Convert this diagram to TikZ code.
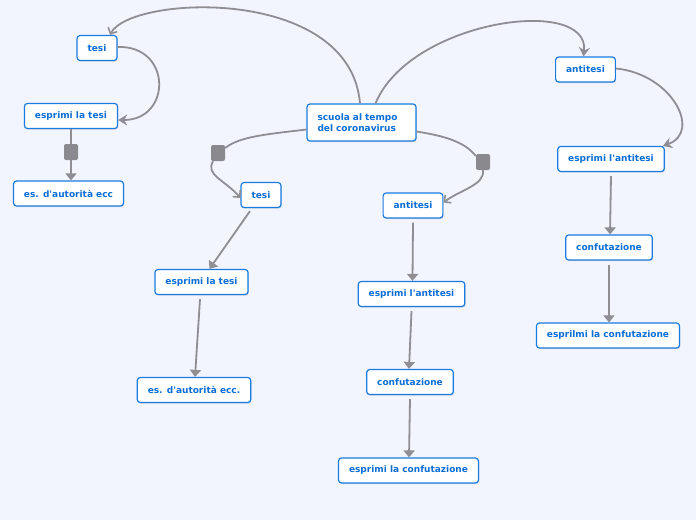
\documentclass[tikz,border=0pt]{standalone}
\usepackage{fontspec}
\setmainfont{DejaVu Sans}[Ligatures=TeXOff]
\usetikzlibrary{arrows.meta,shadows}
\definecolor{bg}{HTML}{F2F5FE}
\definecolor{bord}{HTML}{1A7BE0}
\definecolor{txt}{HTML}{0B6ED6}
\definecolor{edge}{HTML}{8E8E93}
\definecolor{sq}{HTML}{8A8A8E}
\tikzset{
  box/.style={draw=bord, line width=1.2pt, fill=white, rounded corners=3pt,
    text=txt, font=\fontsize{9}{11}\selectfont\bfseries, inner xsep=10.5pt, inner ysep=0pt,
    minimum height=25pt, drop shadow={shadow xshift=0.8pt, shadow yshift=-1.2pt, opacity=0.25}},
  knob/.style={fill=sq, rounded corners=2pt, minimum width=14pt, minimum height=16pt, inner sep=0pt},
  conn/.style={draw=edge, line width=1.8pt},
  opena/.style={conn, -{Straight Barb[length=5pt,width=10pt,line width=1.6pt]}},
  filla/.style={conn, -{Triangle[length=7pt,width=11pt]}},
  stealtha/.style={conn, -{Stealth[length=9pt,width=11pt,inset=3pt]}},
}
\begin{document}
\begin{tikzpicture}[x=1pt,y=-1pt]
\fill[bg] (0,0) rectangle (696,520);
\useasboundingbox (0,0) rectangle (696,520);

\node[box, minimum height=37pt, text width=88pt, align=left] (root) at (361.5,122.5) {scuola al tempo\\del coronavirus};

\node[box] (t1) at (97,48) {tesi};
\node[box] (e1) at (71,116) {esprimi la tesi};
\node[box] (a1) at (68.5,193.5) {es. d'autorità ecc};
\node[knob] (k1) at (71,152) {};

\node[knob] (k2) at (218,153) {};
\node[box] (t2) at (261,195) {tesi};
\node[box] (e2) at (201.5,282) {esprimi la tesi};
\node[box] (a2) at (194,390) {es. d'autorità ecc.};

\node[knob] (k3) at (483,162) {};
\node[box] (n2) at (413,205.5) {antitesi};
\node[box] (en2) at (411.5,294) {esprimi l'antitesi};
\node[box] (c2) at (410,382) {confutazione};
\node[box] (ec2) at (408.5,470.5) {esprimi la confutazione};

\node[box] (n3) at (585.5,69.5) {antitesi};
\node[box] (en3) at (611,159) {esprimi l'antitesi};
\node[box] (c3) at (609,247.5) {confutazione};
\node[box] (ec3) at (608,335.5) {esprilmi la confutazione};

% curves from root
\draw[opena] ([xshift=-1.5pt]root.north) .. controls (350,-15) and (130,-5) .. ([xshift=13pt]t1.north);
\draw[stealtha] ([xshift=14pt]root.north) .. controls (410,20) and (590,-5) .. ([xshift=-2pt]n3.north);
\draw[conn] ([yshift=-7pt]root.west) .. controls (270,134) and (240,136) .. ([yshift=5pt]k2.east);
\draw[opena] ([xshift=-5pt]k2.south) .. controls (205,175) and (225,180) .. ([yshift=-3pt]t2.west);
\draw[conn] ([yshift=-9pt]root.east) .. controls (445,136) and (465,142) .. ([yshift=6pt]k3.west);
\draw[opena] (k3.south) .. controls (485,185) and (460,190) .. ([yshift=3pt]n2.east);

% left branch
\draw[stealtha] ([yshift=1pt]t1.east) .. controls (172,45) and (172,120) .. ([yshift=-4pt]e1.east);
\draw[conn] (e1.south) -- (k1.north);
\draw[filla] (k1.south) -- (a1.north -| k1.south);

% middle branches
\draw[filla] ([xshift=-11pt,yshift=-3pt]t2.south) -- ([xshift=8pt]e2.north);
\draw[filla] ([xshift=-1.5pt,yshift=-4pt]e2.south) -- ([xshift=1pt]a2.north);
\draw[filla] ([yshift=-4pt]n2.south) -- ([xshift=1pt]en2.north);
\draw[filla] ([yshift=-4pt]en2.south) -- ([xshift=-1pt]c2.north);
\draw[filla] ([yshift=-4pt]c2.south) -- ([xshift=0.5pt]ec2.north);

% right branch
\draw[stealtha] ([yshift=1pt]n3.east) .. controls (672,74) and (702,132) .. ([xshift=-2pt]en3.north east);
\draw[filla] ([yshift=-4pt]en3.south) -- ([xshift=1pt]c3.north);
\draw[filla] ([yshift=-4pt]c3.south) -- ([xshift=1pt]ec3.north);
\end{tikzpicture}
\end{document}
